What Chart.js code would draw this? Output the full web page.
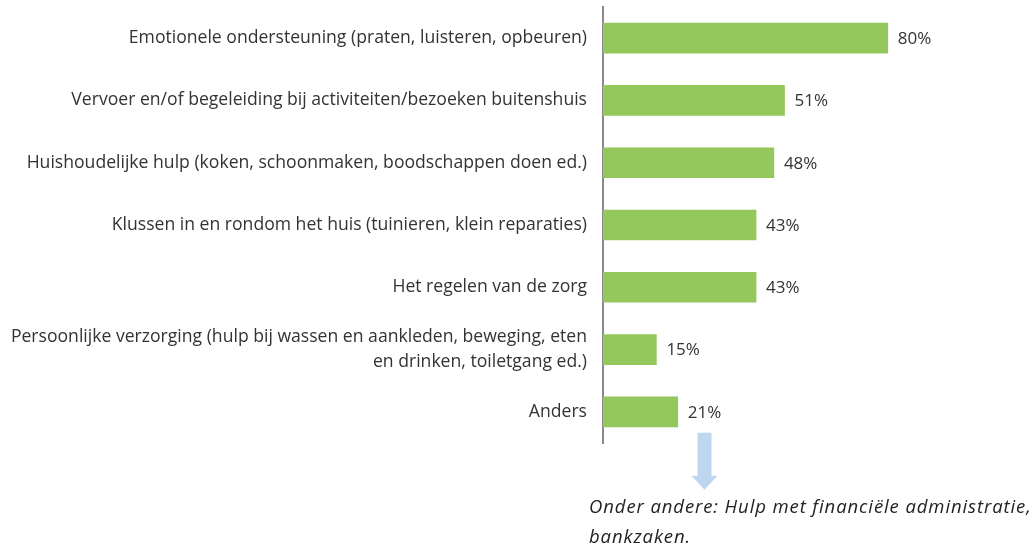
<!DOCTYPE html>
<html>
<head>
<meta charset="utf-8">
<script src="https://cdn.jsdelivr.net/npm/chart.js@4"></script>
<style>
  html, body { margin: 0; padding: 0; background: #fff; }
  #wrap { position: relative; width: 1035px; height: 547px; }
</style>
</head>
<body>
<div id="wrap"><canvas id="hulpChart" width="1035" height="547"></canvas></div>
<script>
const categories = [
    "Emotionele ondersteuning (praten, luisteren, opbeuren)",
    "Vervoer en/of begeleiding bij activiteiten/bezoeken buitenshuis",
    "Huishoudelijke hulp (koken, schoonmaken, boodschappen doen ed.)",
    "Klussen in en rondom het huis (tuinieren, klein reparaties)",
    "Het regelen van de zorg",
    ["Persoonlijke verzorging (hulp bij wassen en aankleden, beweging, eten", "en drinken, toiletgang ed.)"],
    "Anders",
];
const percentages = [80, 51, 48, 43, 43, 15, 21];
const footnoteLines = [
    "Onder andere: Hulp met financiële administratie,",
    "bankzaken.",
];

const valueLabels = {
    id: "valueLabels",
    afterDatasetsDraw(chart) {
        const ctx = chart.ctx;
        const meta = chart.getDatasetMeta(0);
        ctx.save();
        ctx.font = "17px 'Open Sans'";
        ctx.fillStyle = "#333";
        ctx.textBaseline = "middle";
        ctx.textAlign = "left";
        meta.data.forEach((bar, i) => {
            ctx.fillText(percentages[i] + "%", bar.x + 10, bar.y + 1);
        });

        // arrow under the "Anders" label pointing to the footnote
        const last = meta.data[meta.data.length - 1];
        const w = ctx.measureText(percentages[percentages.length - 1] + "%").width;
        const cx = last.x + 10 + w / 2;
        const top = last.y + 21;
        ctx.fillStyle = "#bdd7ee";
        ctx.beginPath();
        ctx.moveTo(cx - 7, top);
        ctx.lineTo(cx + 7, top);
        ctx.lineTo(cx + 7, top + 43);
        ctx.lineTo(cx + 13, top + 43);
        ctx.lineTo(cx, top + 57);
        ctx.lineTo(cx - 13, top + 43);
        ctx.lineTo(cx - 7, top + 43);
        ctx.closePath();
        ctx.fill();

        ctx.font = "italic 18.5px 'Open Sans'";
        ctx.letterSpacing = "0.9px";
        ctx.fillStyle = "#222";
        footnoteLines.forEach((line, i) => {
            ctx.fillText(line, 589, 508 + i * 30);
        });
        ctx.restore();
    },
};

new Chart(document.getElementById("hulpChart"), {
    type: "bar",
    data: {
        labels: categories,
        datasets: [{
            data: percentages,
            backgroundColor: "#95c85c",
            barThickness: 30,
        }],
    },
    options: {
        indexAxis: "y",
        responsive: false,
        animation: false,
        layout: { padding: { left: 0, right: 76, top: 7, bottom: 104 } },
        plugins: { legend: { display: false }, tooltip: { enabled: false } },
        scales: {
            x: { min: 0, max: 100, display: false },
            y: {
                grid: { display: false, drawTicks: false },
                border: { display: true, color: "#8a8a8a", width: 2 },
                ticks: {
                    color: "#333",
                    padding: 16,
                    font: { family: "'Open Sans'", size: 17.6, lineHeight: 1.42 },
                },
                afterFit(scale) {
                    scale.width = 603;
                    scale.paddingTop = 0;
                    scale.paddingBottom = 0;
                },
            },
        },
    },
    plugins: [valueLabels],
});
</script>
</body>
</html>
